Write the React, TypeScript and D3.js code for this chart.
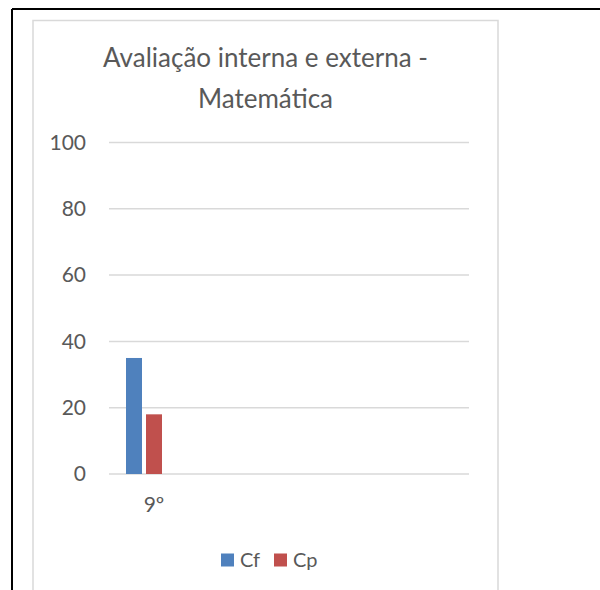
import React from "react";
import * as d3 from "d3";

const categories = ["9º", "", "", ""];
const seriesNames = ["Cf", "Cp"];
const slotNames = ["Cf", "Cp", "_"];
const cfValues = [35, null, null, null];
const cpValues = [18, null, null, null];
const yTicks = [0, 20, 40, 60, 80, 100];
const titleLines = ["Avaliação interna e externa -", "Matemática"];
const colors = ["#4f81bd", "#c0504d"];

const W = 600;
const H = 590;
const FONT = "Lato, 'Open Sans', sans-serif";
const TEXT = "#595959";

export default function App() {
  const plotL = 109, plotR = 469, plotT = 142.5, plotB = 474;
  const x0 = d3.scaleBand<string>().domain(categories.map((_, i) => String(i))).range([plotL, plotR]).paddingInner(0).paddingOuter(0);
  const x1 = d3.scaleBand<string>().domain(slotNames).range([0, x0.bandwidth()]).paddingInner(0.2).paddingOuter(0.85);
  const y = d3.scaleLinear().domain([0, 100]).range([plotB, plotT]);
  const series = [cfValues, cpValues];

  return (
    <svg width={W} height={H} style={{ position: "absolute", left: 0, top: 0 }} fontFamily={FONT}>
      <rect x={0} y={0} width={W} height={H} fill="#fff" />
      {/* outer document border */}
      <line x1={12} y1={9} x2={W} y2={9} stroke="#000" strokeWidth={2} />
      <line x1={12} y1={9} x2={12} y2={H} stroke="#000" strokeWidth={2} />
      {/* chart area border */}
      <path d={`M33,${H} V20.5 H498 V${H}`} fill="none" stroke="#d9d9d9" strokeWidth={1.5} />
      {/* title */}
      {titleLines.map((t, i) => (
        <text key={i} x={265.5} y={67 + i * 41} textAnchor="middle" fontSize={26} fill={TEXT}>{t}</text>
      ))}
      {/* gridlines + y labels */}
      {yTicks.map((v) => (
        <g key={v}>
          <line x1={plotL} x2={plotR} y1={y(v)} y2={y(v)} stroke="#d9d9d9" strokeWidth={1.5} />
          <text x={86} y={y(v)} dy="0.35em" textAnchor="end" fontSize={21} fill={TEXT}>{v}</text>
        </g>
      ))}
      {/* bars */}
      {categories.map((c, ci) =>
        series.map((vals, si) => {
          const v = vals[ci];
          if (v == null) return null;
          const bx = (x0(String(ci)) ?? 0) + (x1(slotNames[si]) ?? 0);
          return <rect key={`${ci}-${si}`} x={bx} y={y(v)} width={x1.bandwidth()} height={y(0) - y(v)} fill={colors[si]} />;
        })
      )}
      {/* category labels */}
      {categories.map((c, ci) => (
        <text key={ci} x={(x0(String(ci)) ?? 0) + x0.bandwidth() / 2} y={512} textAnchor="middle" fontSize={21} fill={TEXT}>{c}</text>
      ))}
      {/* legend */}
      {seriesNames.map((n, i) => {
        const lx = 221 + i * 53;
        return (
          <g key={n}>
            <rect x={lx} y={553.5} width={13} height={13} fill={colors[i]} />
            <text x={lx + 19} y={560} dy="0.35em" fontSize={20} fill={TEXT}>{n}</text>
          </g>
        );
      })}
    </svg>
  );
}
